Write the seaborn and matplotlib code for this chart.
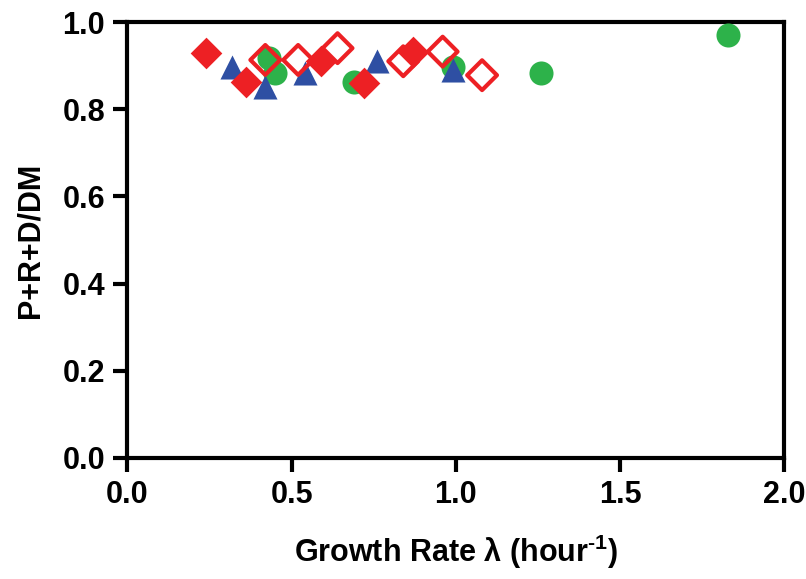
import matplotlib
matplotlib.use("Agg")
import matplotlib.pyplot as plt
import seaborn as sns

# growth rate (1/h) and (P+R+D)/DM for each series
red_filled_x = [0.24, 0.36, 0.59, 0.72, 0.87]
red_filled_y = [0.930, 0.862, 0.910, 0.859, 0.932]

red_open_x = [0.42, 0.52, 0.64, 0.84, 0.96, 1.08]
red_open_y = [0.913, 0.913, 0.940, 0.910, 0.932, 0.878]

blue_x = [0.32, 0.42, 0.54, 0.76, 0.99]
blue_y = [0.897, 0.852, 0.884, 0.910, 0.890]

green_x = [0.43, 0.45, 0.69, 0.99, 1.26, 1.83]
green_y = [0.917, 0.882, 0.863, 0.897, 0.882, 0.970]

x_ticks = [0.0, 0.5, 1.0, 1.5, 2.0]
y_ticks = [0.0, 0.2, 0.4, 0.6, 0.8, 1.0]

sns.set_style("ticks")
plt.rcParams["font.family"] = ["Liberation Sans Narrow", "Liberation Sans", "DejaVu Sans"]
plt.rcParams["font.weight"] = "bold"
plt.rcParams["text.color"] = "black"
plt.rcParams["axes.labelcolor"] = "black"
plt.rcParams["xtick.color"] = "black"
plt.rcParams["ytick.color"] = "black"
plt.rcParams["mathtext.fontset"] = "custom"
plt.rcParams["mathtext.rm"] = "Liberation Sans:bold"
plt.rcParams["mathtext.bf"] = "Liberation Sans:bold"
plt.rcParams["mathtext.default"] = "bf"

fig = plt.figure(figsize=(8.06, 5.79), dpi=100)
ax = fig.add_axes([0.158, 0.209, 0.815, 0.753])

red = "#ED2024"
blue = "#2E4FA3"
green = "#2DB24A"

sns.scatterplot(x=green_x, y=green_y, ax=ax, marker="o", s=300, color=green,
                edgecolor=green, linewidth=0, zorder=3)
sns.scatterplot(x=blue_x, y=blue_y, ax=ax, marker="^", s=300, color=blue,
                edgecolor=blue, linewidth=0, zorder=4)
sns.scatterplot(x=red_filled_x, y=red_filled_y, ax=ax, marker="D", s=260, color=red,
                edgecolor=red, linewidth=0, zorder=5)
sns.scatterplot(x=red_open_x, y=red_open_y, ax=ax, marker="D", s=230,
                facecolor="none", edgecolor=red, linewidth=3, zorder=6)

ax.set_xlim(0, 2.0)
ax.set_ylim(0, 1.0)
ax.set_xticks(x_ticks)
ax.set_yticks(y_ticks)
ax.set_xticklabels([f"{v:.1f}" for v in x_ticks])
ax.set_yticklabels([f"{v:.1f}" for v in y_ticks])

for side in ["left", "bottom", "top", "right"]:
    ax.spines[side].set_linewidth(3)
    ax.spines[side].set_color("black")
ax.tick_params(axis="both", width=3, length=10, labelsize=22, pad=6, direction="out")

ax.set_xlabel("Growth Rate λ (hour$^{\\text{-1}}$)", fontsize=22, fontweight="bold", labelpad=16)
ax.set_ylabel("P+R+D/DM", fontsize=22, fontweight="bold", labelpad=12)

fig.savefig("out.png", dpi=100)
